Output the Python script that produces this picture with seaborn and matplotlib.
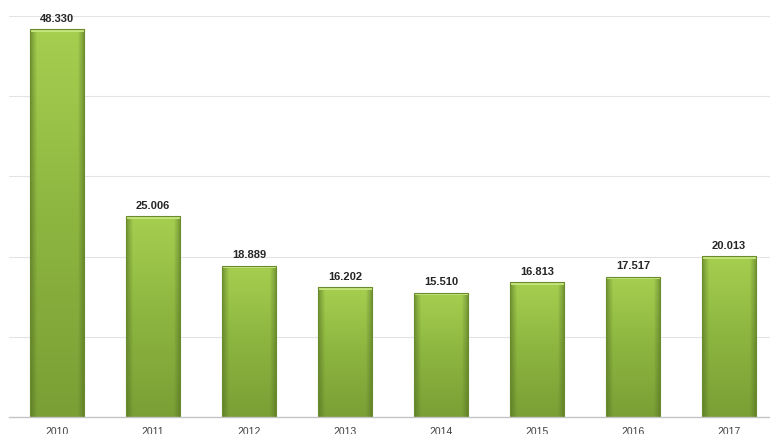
import matplotlib
matplotlib.use("Agg")
import matplotlib.pyplot as plt
import seaborn as sns
import numpy as np
import pandas as pd
from matplotlib.colors import LinearSegmentedColormap

years = ["2010", "2011", "2012", "2013", "2014", "2015", "2016", "2017"]
values = [48.330, 25.006, 18.889, 16.202, 15.510, 16.813, 17.517, 20.013]
labels = ["48.330", "25.006", "18.889", "16.202", "15.510", "16.813", "17.517", "20.013"]

df = pd.DataFrame({"year": years, "value": values})

sns.set_theme(style="white")
plt.rcParams["font.family"] = ["Liberation Sans", "DejaVu Sans"]

fig = plt.figure(figsize=(7.7, 4.34), dpi=100)
ax = fig.add_axes([9 / 770, 17 / 434, 768 / 770, 401 / 434])

sns.barplot(data=df, x="year", y="value", ax=ax, color="#93bd45",
            width=0.57, edgecolor="#6b8a2e", linewidth=0.8, saturation=1)

ax.set_ylim(0, 50)
ax.set_xlim(-0.5, 7.5)
ax.set_yticks([10, 20, 30, 40, 50])
ax.yaxis.grid(True, color="#e3e3e3", linewidth=0.8)
ax.set_axisbelow(True)
for s in ["top", "right", "left"]:
    ax.spines[s].set_visible(False)
ax.spines["bottom"].set_color("#c4c4c4")
ax.spines["bottom"].set_linewidth(1.0)
ax.tick_params(axis="y", left=False, labelleft=False)
ax.tick_params(axis="x", bottom=False, labelsize=7.5, labelcolor="#404040", pad=1)
ax.set_xlabel("")
ax.set_ylabel("")

cmap = LinearSegmentedColormap.from_list("g", ["#7a9f35", "#8cb540", "#a6cf50"])
hgrad = np.linspace(0, 1, 64).reshape(1, -1)
for p in list(ax.patches):
    x0, y0 = p.get_x(), p.get_y()
    w, h = p.get_width(), p.get_height()
    grad = np.linspace(0, 1, 256).reshape(-1, 1)
    im = ax.imshow(grad, extent=[x0, x0 + w, y0, y0 + h], origin="lower",
                   cmap=cmap, aspect="auto", zorder=p.get_zorder() + 0.1)
    im.set_clip_path(p)
    shade = np.abs(hgrad - 0.5) * 2
    shade = np.clip((shade - 0.75) / 0.25, 0, 1)
    rgba = np.zeros((1, 64, 4))
    rgba[..., :3] = np.array([0.30, 0.40, 0.12])
    rgba[..., 3] = shade * 0.55
    im2 = ax.imshow(rgba, extent=[x0, x0 + w, y0, y0 + h], aspect="auto",
                    zorder=p.get_zorder() + 0.2)
    im2.set_clip_path(p)
    ax.fill_between([x0, x0 + w], y0 + h - 0.35, y0 + h, color="#c3e47a",
                    zorder=p.get_zorder() + 0.3, linewidth=0)
    p.set_facecolor("none")
    p.set_zorder(p.get_zorder() + 0.4)

ax.set_xlim(-0.5, 7.5)
ax.set_ylim(0, 50)

for i, (v, lab) in enumerate(zip(values, labels)):
    ax.annotate(lab, (i, v), xytext=(0, 4), textcoords="offset points",
                ha="center", va="bottom", fontsize=8, fontweight="bold",
                color="#262626")

fig.savefig("out.png", dpi=100)
